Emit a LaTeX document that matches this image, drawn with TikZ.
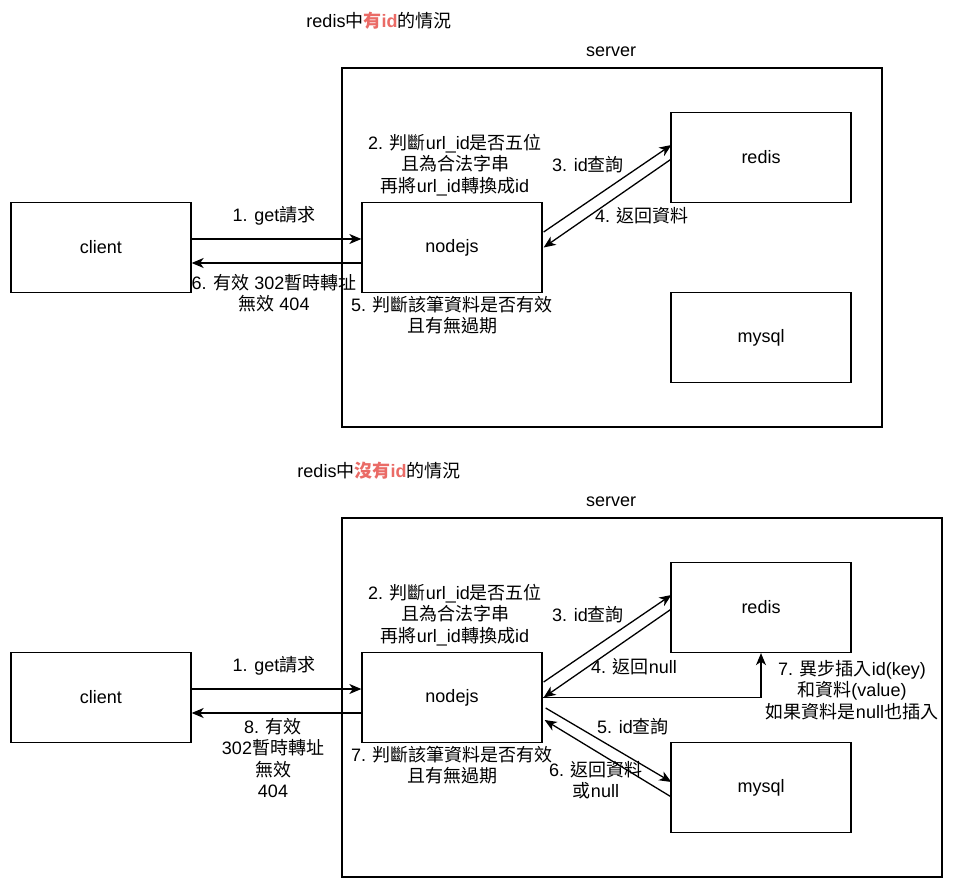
\documentclass[tikz,border=0pt]{standalone}
\usepackage{fontspec}
\setmainfont{Liberation Sans}
\newfontfamily\cjkf{Noto Sans CJK TC}
\newcommand\cj[1]{{\cjkf #1}}
\usetikzlibrary{arrows.meta,calc}
\definecolor{hl}{RGB}{234,107,102}
\tikzset{
  box/.style={draw, line width=1.3pt, minimum width=180pt, minimum height=90pt, inner sep=0pt, font=\fontsize{18}{21.6}\selectfont},
  frame/.style={draw, line width=1.3pt},
  lbl/.style={inner sep=0pt, align=center, font=\fontsize{18}{21.6}\selectfont},
  conn/.style={line width=1.3pt, -{Stealth[length=12pt,width=10pt,inset=3.5pt]}},
}
\begin{document}
\begin{tikzpicture}[x=1pt,y=-1pt]
\useasboundingbox[fill=white] (0,0) rectangle (956,882);
% ===== top =====
\node[lbl] (t1) at (379,21) {redis\cj{中}{\bfseries\color{hl}\cj{有}id}\cj{的情況}};
\draw[frame] (342,68) rectangle (882,427);
\node[lbl] (s1) at (611,52) {server};
\node[box] (c1) at (101,247.5) {client};
\node[box] (n1) at (452,247.5) {nodejs};
\node[box] (r1) at (761,157.5) {redis};
\node[box] (m1) at (761,337.5) {mysql};
\draw[conn] ([yshift=8.5pt]c1.east) -- ([yshift=8.5pt]n1.west);
\draw[conn] ([yshift=-15.5pt]n1.west) -- ([yshift=-15.5pt]c1.east);
\draw[conn] ([xshift=1pt,yshift=15.5pt]n1.east) -- ([xshift=1pt,yshift=12.5pt]r1.west);
\draw[conn] ([xshift=1pt,yshift=-1.5pt]r1.west) -- ([xshift=1pt,yshift=0pt]n1.east);
\node[lbl] at (274,216) {1. get\cj{請求}};
\node[lbl] at (274,293) {6. \cj{有效} 302\cj{暫時轉址}\\\cj{無效} 404};
\node[lbl] at (455,165) {2. \cj{判斷}url\_id\cj{是否五位}\\\cj{且為合法字串}\\\cj{再將}url\_id\cj{轉換成}id};
\node[lbl] at (452,315) {5. \cj{判斷該筆資料是否有效}\\\cj{且有無過期}};
\node[lbl] at (588,165) {3. id\cj{查詢}};
\node[lbl] at (642,216) {4. \cj{返回資料}};
% ===== bottom =====
\node[lbl] (t2) at (379,471) {redis\cj{中}{\bfseries\color{hl}\cj{沒有}id}\cj{的情況}};
\draw[frame] (342,518) rectangle (942,877);
\node[lbl] (s2) at (611,502) {server};
\node[box] (c2) at (101,697.5) {client};
\node[box] (n2) at (452,697.5) {nodejs};
\node[box] (r2) at (761,607.5) {redis};
\node[box] (m2) at (761,787.5) {mysql};
\draw[conn] ([yshift=8.5pt]c2.east) -- ([yshift=8.5pt]n2.west);
\draw[conn] ([yshift=-15.5pt]n2.west) -- ([yshift=-15.5pt]c2.east);
\draw[conn] ([xshift=1pt,yshift=15.5pt]n2.east) -- ([xshift=1pt,yshift=12.5pt]r2.west);
\draw[conn] ([xshift=1pt,yshift=-1.5pt]r2.west) -- ([xshift=1pt,yshift=0pt]n2.east);
\draw[conn] (n2.east) -| (r2.south);
\draw[conn] ([xshift=3pt,yshift=-10.5pt]n2.east) -- ([xshift=1pt,yshift=5.5pt]m2.west);
\draw[conn] ([xshift=1pt,yshift=-9.5pt]m2.west) -- ([xshift=2pt,yshift=-22.5pt]n2.east);
\node[lbl] at (274,666) {1. get\cj{請求}};
\node[lbl] at (273,758) {8. \cj{有效}\\302\cj{暫時轉址}\\\cj{無效}\\404};
\node[lbl] at (455,615) {2. \cj{判斷}url\_id\cj{是否五位}\\\cj{且為合法字串}\\\cj{再將}url\_id\cj{轉換成}id};
\node[lbl] at (452,765) {7. \cj{判斷該筆資料是否有效}\\\cj{且有無過期}};
\node[lbl] at (588,615) {3. id\cj{查詢}};
\node[lbl] at (634,667) {4. \cj{返回}null};
\node[lbl] at (852,690) {7. \cj{異步插入}id(key)\\\cj{和資料}(value)\\\cj{如果資料是}null\cj{也插入}};
\node[lbl] at (633,727) {5. id\cj{查詢}};
\node[lbl] at (596,780) {6. \cj{返回資料}\\\cj{或}null};
\end{tikzpicture}
\end{document}
